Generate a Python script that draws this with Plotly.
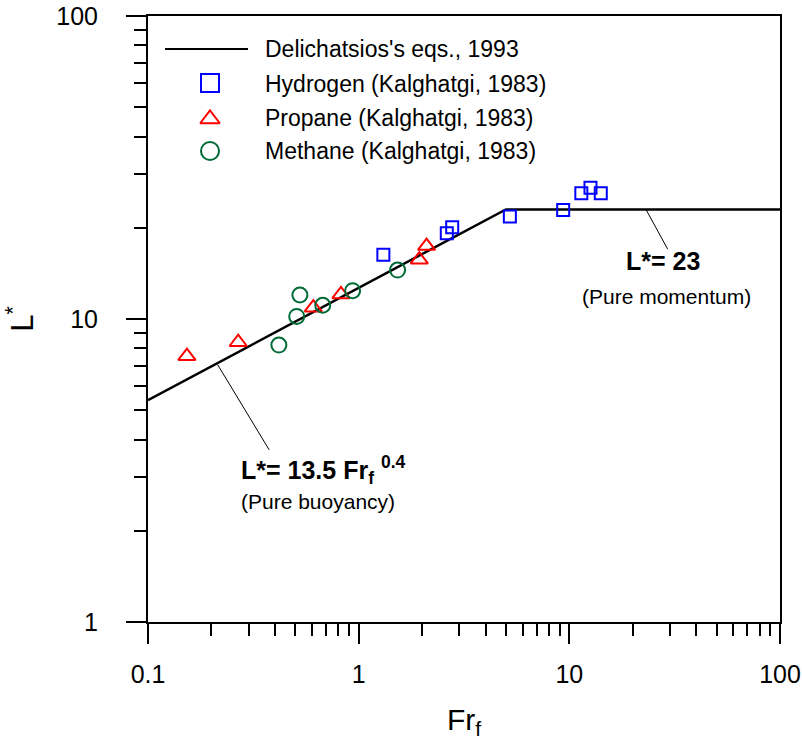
import plotly.graph_objects as go

# ---------------- data ----------------
line_fr = [0.1, 5.0, 100.0]          # Delichatsios's eqs., 1993
line_l = [5.4, 23.0, 23.0]

h_fr = [1.31, 2.62, 2.78, 5.22, 9.35, 11.4, 12.6, 14.1]   # Hydrogen
h_l = [16.3, 19.2, 20.1, 21.8, 22.9, 26.0, 27.1, 26.0]

p_fr = [0.153, 0.268, 0.609, 0.824, 1.94, 2.10]          # Propane
p_l = [7.54, 8.38, 10.9, 12.05, 15.7, 17.4]

m_fr = [0.418, 0.508, 0.526, 0.675, 0.936, 1.53]         # Methane
m_l = [8.2, 10.2, 12.0, 11.1, 12.4, 14.5]

buoy_leader_fr = [0.214, 0.376]
buoy_leader_l = [7.07, 3.70]
mom_leader_fr = [23.1, 29.3]
mom_leader_l = [23.0, 17.0]

legend_names = ["Delichatsios's eqs., 1993", "Hydrogen (Kalghatgi, 1983)",
                "Propane (Kalghatgi, 1983)", "Methane (Kalghatgi, 1983)"]

x_tickvals = [0.1, 1, 10, 100]
x_ticktext = ["0.1", "1", "10", "100"]
y_tickvals = [1, 10, 100]
y_ticktext = ["1", "10", "100"]
x_minor = [m * 10 ** e for e in (-1, 0, 1) for m in range(2, 10)]
y_minor = [m * 10 ** e for e in (0, 1) for m in range(2, 10)]

# ---------------- styles ----------------
FONT = "Liberation Sans, Arial, Helvetica, sans-serif"
BLUE = "#0000FF"
RED = "#FF0000"
GREEN = "#006B35"

W, H = 802, 740
L, R, T, B = 148, 22, 16, 118
PX0, PX1 = L, W - R
PY0, PY1 = T, H - B

sq_style = dict(symbol="square-open", size=12, color=BLUE, line=dict(color=BLUE, width=2))
tri_style = dict(symbol="triangle-up-open", size=15, color=RED, line=dict(color=RED, width=2))
cir_style = dict(symbol="circle-open", size=15, color=GREEN, line=dict(color=GREEN, width=2))

leg_sq_style = dict(sq_style, size=18)
leg_tri_style = dict(tri_style, size=17)
leg_cir_style = dict(cir_style, size=18)

fig = go.Figure()

fig.add_trace(go.Scatter(x=line_fr, y=line_l, mode="lines",
                         line=dict(color="black", width=2.5), name=legend_names[0]))
fig.add_trace(go.Scatter(x=buoy_leader_fr, y=buoy_leader_l, mode="lines",
                         line=dict(color="black", width=1), showlegend=False))
fig.add_trace(go.Scatter(x=mom_leader_fr, y=mom_leader_l, mode="lines",
                         line=dict(color="black", width=1), showlegend=False))
fig.add_trace(go.Scatter(x=h_fr, y=h_l, mode="markers", marker=sq_style, name=legend_names[1]))
fig.add_trace(go.Scatter(x=p_fr, y=p_l, mode="markers", marker=tri_style, name=legend_names[2]))
fig.add_trace(go.Scatter(x=m_fr, y=m_l, mode="markers", marker=cir_style, name=legend_names[3]))

# ---------------- custom legend (pixel overlay axes) ----------------
leg_rows = [49, 84, 118, 151]
leg_marker_rows = [83, 119, 151]
leg_line_x = [165, 248]
leg_mark_x = 210
leg_text_x = 263
fig.add_trace(go.Scatter(x=leg_line_x, y=[leg_rows[0]] * 2, mode="lines", xaxis="x2", yaxis="y2",
                         line=dict(color="black", width=2), showlegend=False, hoverinfo="skip"))
for row, st in zip(leg_marker_rows, [leg_sq_style, leg_tri_style, leg_cir_style]):
    fig.add_trace(go.Scatter(x=[leg_mark_x], y=[row], mode="markers", xaxis="x2", yaxis="y2",
                             marker=st, showlegend=False, hoverinfo="skip"))

annotations = []
for row, name in zip(leg_rows, legend_names):
    annotations.append(dict(x=leg_text_x, y=row, xref="x2", yref="y2", text=name,
                            showarrow=False, xanchor="left", yanchor="middle",
                            font=dict(family=FONT, size=23, color="black")))

annotations += [
    dict(x=663, y=261, xref="x2", yref="y2", text="<b>L*= 23</b>", showarrow=False,
         xanchor="center", yanchor="middle", font=dict(family=FONT, size=25, color="black")),
    dict(x=666, y=296, xref="x2", yref="y2", text="(Pure momentum)", showarrow=False,
         xanchor="center", yanchor="middle", font=dict(family=FONT, size=21, color="black")),
    dict(x=323, y=470, xref="x2", yref="y2", text="<b>L*= 13.5 Fr<sub>f</sub> <sup>0.4</sup></b>",
         showarrow=False, xanchor="center", yanchor="middle",
         font=dict(family=FONT, size=25, color="black")),
    dict(x=318, y=501, xref="x2", yref="y2", text="(Pure buoyancy)", showarrow=False,
         xanchor="center", yanchor="middle", font=dict(family=FONT, size=21, color="black")),
]

axis_common = dict(type="log", ticks="outside", ticklen=20, tickwidth=2, tickcolor="black",
                   showline=True, linewidth=2, linecolor="black", mirror=True,
                   showgrid=False, zeroline=False, automargin=False,
                   tickfont=dict(family=FONT, size=25, color="black"))

fig.update_layout(
    width=W, height=H, autosize=False,
    margin=dict(l=L, r=R, t=T, b=B, pad=0),
    paper_bgcolor="white", plot_bgcolor="white",
    showlegend=False,
    font=dict(family=FONT, color="black"),
    xaxis=dict(**axis_common, range=[-1, 2], tickmode="array",
               tickvals=x_tickvals, ticktext=x_ticktext, ticklabelstandoff=9,
               minor=dict(tickmode="array", tickvals=x_minor, ticks="outside",
                          ticklen=12, tickwidth=2, tickcolor="black", showgrid=False),
               title=dict(text="Fr<sub>f</sub>", font=dict(family=FONT, size=30, color="black"),
                          standoff=24)),
    yaxis=dict(**axis_common, range=[0, 2], tickmode="array",
               tickvals=y_tickvals, ticktext=y_ticktext, ticklabelstandoff=23,
               minor=dict(tickmode="array", tickvals=y_minor, ticks="outside",
                          ticklen=12, tickwidth=2, tickcolor="black", showgrid=False),
               title=dict(text="L<sup>*</sup>", font=dict(family=FONT, size=31, color="black"),
                          standoff=14)),
    xaxis2=dict(overlaying="x", anchor="y2", range=[PX0, PX1], visible=False, fixedrange=True),
    yaxis2=dict(overlaying="y", anchor="x2", range=[PY1, PY0], visible=False, fixedrange=True),
    annotations=annotations,
)

fig.write_html("out.html", config={"displayModeBar": False},
               post_script="document.body.style.margin='0';")
